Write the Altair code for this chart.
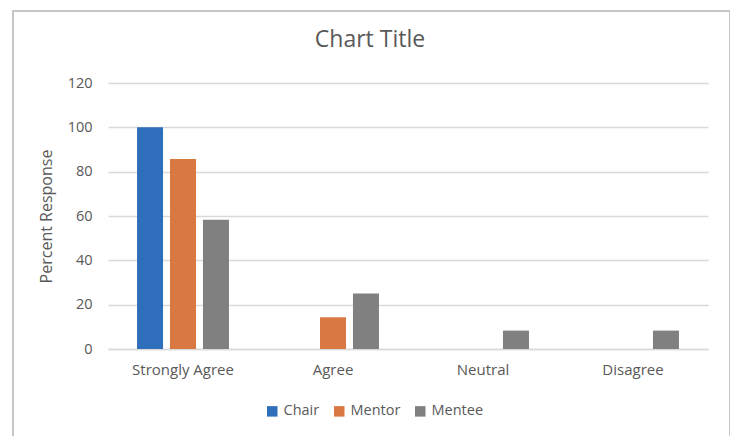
import pandas as pd
import altair as alt

categories = ["Strongly Agree", "Agree", "Neutral", "Disagree"]
series = ["Chair", "Mentor", "Mentee"]
chair = [100, 0, 0, 0]
mentor = [85.7, 14.3, 0, 0]
mentee = [58.3, 25.0, 8.3, 8.3]
colors = ["#2E6EBA", "#D97841", "#808080"]

rows = []
for name, vals in zip(series, [chair, mentor, mentee]):
    for cat, v in zip(categories, vals):
        rows.append({"Response": cat, "Group": name, "Percent": v})
df = pd.DataFrame(rows)

FONT = "Open Sans"
GRAY = "#595959"

bars = alt.Chart(df).mark_bar(width=26).encode(
    alt.X("Response:N", sort=categories, title=None,
          scale=alt.Scale(paddingInner=0, paddingOuter=0),
          axis=alt.Axis(labelAngle=0, ticks=False, domainColor="#d9d9d9", domainWidth=1.5,
                        labelFontSize=15, labelColor=GRAY, labelPadding=13, labelFont=FONT)),
    alt.XOffset("Group:N", sort=series, scale=alt.Scale(paddingInner=0.21, paddingOuter=0.88)),
    alt.Y("Percent:Q", title="Percent Response", scale=alt.Scale(domain=[0, 120]),
          axis=alt.Axis(values=[0, 20, 40, 60, 80, 100, 120], ticks=False, domain=False,
                        gridColor="#d9d9d9", gridWidth=1.5, labelFontSize=14.5, labelColor=GRAY,
                        labelPadding=16, labelFont=FONT, titleFont=FONT, titleFontSize=16,
                        titleFontWeight="normal", titleColor=GRAY, titlePadding=13)),
    alt.Color("Group:N", sort=series, title=None,
              scale=alt.Scale(domain=series, range=colors),
              legend=alt.Legend(orient="none", legendX=157, legendY=321, direction="horizontal",
                                symbolType="square", symbolSize=110, symbolStrokeWidth=0,
                                labelFontSize=14.5, labelColor=GRAY, labelFont=FONT,
                                columnPadding=12, labelOffset=4))
)

frame = alt.Chart(df).mark_rect(fill=None, stroke="#c6c6c6", strokeWidth=1.5).encode(
    x=alt.value(-95), x2=alt.value(622), y=alt.value(-72), y2=alt.value(355)
)

chart = alt.layer(frame, bars).properties(
    width=600,
    height=266,
    padding={"left": 100, "top": 75, "right": 22, "bottom": 87},
    autosize=alt.AutoSizeParams(type="none"),
    title=alt.TitleParams("Chart Title", fontSize=23, color=GRAY, font=FONT, fontWeight="normal",
                          anchor="middle", dx=-38, offset=-60, baseline="alphabetic"),
).configure_view(stroke=None)

chart.save("out.html", embed_options={"renderer": "svg", "actions": False})
